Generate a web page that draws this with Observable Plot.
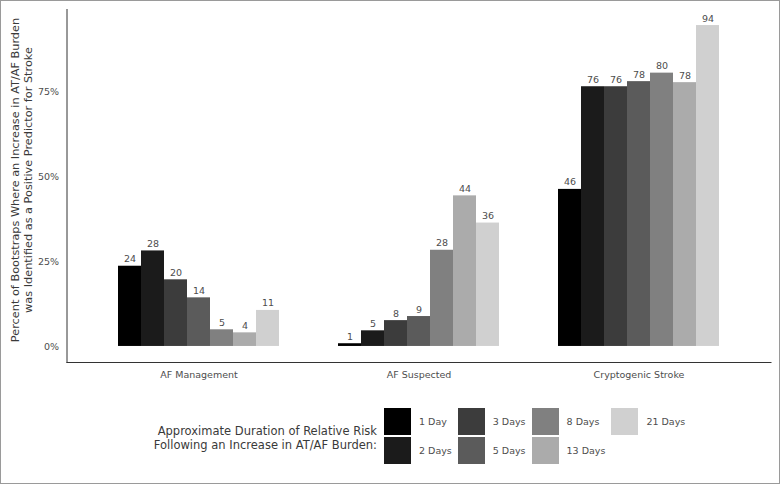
<!DOCTYPE html>
<html>
<head>
<meta charset="utf-8">
<script src="https://cdn.jsdelivr.net/npm/d3@7"></script>
<script src="https://cdn.jsdelivr.net/npm/@observablehq/plot@0.6"></script>
<style>
  html, body { margin: 0; padding: 0; background: #fff; }
  #wrap { position: relative; width: 780px; height: 484px; overflow: hidden; font-family: "DejaVu Sans", sans-serif; background: #fff; }
  #border { position: absolute; left: 0; top: 0; width: 780px; height: 484px; box-sizing: border-box; border: 1px solid #9a9a9a; pointer-events: none; }
  #chart { position: absolute; left: 0; top: 0; }
  #legTitle { position: absolute; right: 403px; top: 424px; text-align: right; font-size: 11.5px; line-height: 14px; color: #3a3a3a; white-space: nowrap; }
  #legKeys { position: absolute; left: 384px; top: 408px; display: grid; grid-auto-flow: column; grid-template-rows: 27px 27px; row-gap: 2px; column-gap: 6px; }
  .key { display: flex; align-items: center; font-size: 9.5px; color: #4d4d4d; white-space: nowrap; }
  .sw { width: 27px; height: 27px; margin-right: 8px; box-sizing: border-box; }
</style>
</head>
<body>
<div id="wrap">
  <div id="chart"></div>
  <div id="legTitle"></div>
  <div id="legKeys"></div>
  <div id="border"></div>
</div>
<script>
const categories = ["AF Management", "AF Suspected", "Cryptogenic Stroke"];
const durations = ["1 Day", "2 Days", "3 Days", "5 Days", "8 Days", "13 Days", "21 Days"];
const afManagement = [23.6, 28.1, 19.6, 14.3, 4.9, 4.0, 10.6];
const afSuspected = [0.8, 4.6, 7.6, 8.8, 28.3, 44.3, 36.3];
const cryptogenicStroke = [46.2, 76.4, 76.4, 77.9, 80.4, 77.6, 94.4];
const yTicks = [0, 25, 50, 75];
const greys = ["#000000", "#1b1b1b", "#3c3c3c", "#5b5b5b", "#808080", "#ababab", "#d0d0d0"];
const yTitle = "Percent of Bootstraps Where an Increase in AT/AF Burden\nwas Identified as a Positive Predictor for Stroke";
const legendTitle = ["Approximate Duration of Relative Risk", "Following an Increase in AT/AF Burden:"];

const series = [afManagement, afSuspected, cryptogenicStroke];
const rows = [];
categories.forEach((c, i) => durations.forEach((d, j) => rows.push({category: c, duration: d, value: series[i][j]})));

const W = 780, H = 390, ML = 66, MR = 10, MT = 9, MB = 28;
const pInner = 0.25, pOuter = 0.225;
const step = (W - ML - MR) / (categories.length - pInner + 2 * pOuter);
const facetShift = step * pOuter;
const yMax = d3.max(rows, d => d.value);
const pad = yMax * 0.05;

const plot = Plot.plot({
  width: W, height: H,
  marginTop: MT, marginBottom: MB, marginLeft: ML, marginRight: MR,
  style: {fontFamily: "DejaVu Sans", fontSize: "9.5px", color: "#4d4d4d", background: "white"},
  fx: {domain: categories, paddingInner: pInner, paddingOuter: pOuter, label: null, axis: null},
  x: {domain: durations, padding: 0, axis: null},
  y: {domain: [-pad, yMax + pad], axis: null},
  color: {domain: durations, range: greys},
  marks: [
    Plot.barY(rows, {fx: "category", x: "duration", y: "value", fill: "duration"}),
    Plot.text(rows, {fx: "category", x: "duration", y: "value", text: d => Math.round(d.value), lineAnchor: "bottom", dy: -4, fill: "#4d4d4d", fontSize: 9.5}),
    Plot.axisFx({anchor: "bottom", tickSize: 0, tickPadding: 9, label: null, fill: "#4d4d4d", fontSize: 9.5}),
    Plot.axisY({ticks: yTicks, tickSize: 0, tickPadding: 8 + facetShift, tickFormat: d => d + "%", label: null, fill: "#4d4d4d", fontSize: 9.5}),
    Plot.frame({anchor: "left", facet: "super", stroke: "#333", dx: -facetShift}),
    Plot.frame({anchor: "bottom", facet: "super", stroke: "#333", insetLeft: -facetShift, insetRight: -facetShift}),
    Plot.text([yTitle], {text: d => d, frameAnchor: "left", facet: "super", rotate: -90, dx: -45.5 - facetShift, dy: -6, lineAnchor: "middle", textAnchor: "middle", lineHeight: 1.15, fontSize: 11.3, fill: "#3a3a3a"})
  ]
});
document.getElementById("chart").appendChild(plot);

document.getElementById("legTitle").innerHTML = legendTitle.join("<br>");
const keys = document.getElementById("legKeys");
durations.forEach((d, i) => {
  const k = document.createElement("div");
  k.className = "key";
  const s = document.createElement("div");
  s.className = "sw";
  s.style.background = greys[i];
  k.appendChild(s);
  k.appendChild(document.createTextNode(d));
  keys.appendChild(k);
});
</script>
</body>
</html>
